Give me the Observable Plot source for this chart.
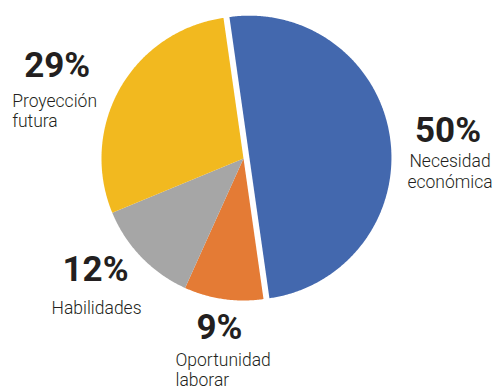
<!DOCTYPE html>
<html>
<head>
<meta charset="utf-8">
<script src="https://cdn.jsdelivr.net/npm/d3@7"></script>
<script src="https://cdn.jsdelivr.net/npm/@observablehq/plot@0.6"></script>
<style>
  html, body { margin: 0; padding: 0; background: #fff; }
</style>
</head>
<body>
<div id="chart"></div>
<script>
// ---- data ----
const names = ["Necesidad económica", "Oportunidad laborar", "Habilidades", "Proyección futura"];
const labelLines = ["Necesidad\neconómica", "Oportunidad\nlaborar", "Habilidades", "Proyección\nfutura"];
const values = [50, 9, 12, 29];
const pctLabels = ["50%", "9%", "12%", "29%"];
const colors = ["#4368ae", "#e47b35", "#a6a6a6", "#f2b91f"];

// ---- layout ----
const W = 497, H = 389;
const cx = 243, cy = 158, R = 142;
const startDeg = -8.1;
const explode = [6, 0, 0, 0];

const arcs = d3.pie().sort(null).value(d => d.value)
  .startAngle(startDeg * Math.PI / 180)
  .endAngle(startDeg * Math.PI / 180 + 2 * Math.PI)(
    names.map((name, i) => ({name, value: values[i], i}))
  );

const pts = [];
arcs.forEach(a => {
  const mid = (a.startAngle + a.endAngle) / 2;
  const ox = cx + explode[a.data.i] * Math.sin(mid);
  const oy = cy - explode[a.data.i] * Math.cos(mid);
  a.ox = ox; a.oy = oy; a.mid = mid;
  pts.push({name: a.data.name, x: ox, y: oy});
  const n = Math.max(8, Math.ceil((a.endAngle - a.startAngle) * 180 / Math.PI * 2));
  for (let k = 0; k <= n; k++) {
    const t = a.startAngle + (a.endAngle - a.startAngle) * k / n;
    pts.push({name: a.data.name, x: ox + R * Math.sin(t), y: oy - R * Math.cos(t)});
  }
});

// label anchors on the outer arc at mid-angle
const anchors = arcs.map(a => ({
  i: a.data.i,
  x: a.ox + R * Math.sin(a.mid),
  y: a.oy - R * Math.cos(a.mid)
}));

// per-slice label offsets (layout only)
const labelOffsets = [
  {pct: {dx: 58, dy: 4, anchor: "middle"}, name: {dx: 60, dy: 15, anchor: "middle"}},
  {pct: {dx: -4, dy: 40, anchor: "middle"}, name: {dx: -48, dy: 52, anchor: "start"}},
  {pct: {dx: -46, dy: 24, anchor: "middle"}, name: {dx: -45, dy: 42, anchor: "middle"}},
  {pct: {dx: -63, dy: -11, anchor: "middle"}, name: {dx: -108, dy: 4, anchor: "start"}}
];

const textColor = "#231f20";
const textMarks = [];
anchors.forEach(an => {
  const o = labelOffsets[an.i];
  textMarks.push(Plot.text([an], {
    x: "x", y: "y", text: () => pctLabels[an.i],
    dx: o.pct.dx, dy: o.pct.dy, textAnchor: o.pct.anchor, lineAnchor: "bottom",
    fontFamily: "Roboto, 'Liberation Sans', sans-serif", fontWeight: 700, fontSize: 35,
    fill: textColor
  }));
  textMarks.push(Plot.text([an], {
    x: "x", y: "y", text: () => labelLines[an.i],
    dx: o.name.dx, dy: o.name.dy, textAnchor: o.name.anchor, lineAnchor: "top",
    lineHeight: 1.17,
    fontFamily: "Roboto, 'Liberation Sans', sans-serif", fontWeight: 300, fontSize: 17.5,
    fill: textColor
  }));
});

const chart = Plot.plot({
  width: W,
  height: H,
  margin: 0,
  x: {domain: [0, W], range: [0, W], axis: null},
  y: {domain: [0, H], range: [0, H], axis: null},
  color: {domain: names, range: colors},
  style: {background: "#fff"},
  marks: [
    Plot.line(pts, {x: "x", y: "y", z: "name", fill: "name", stroke: "none", curve: "linear-closed"}),
    ...textMarks
  ]
});
document.getElementById("chart").appendChild(chart);
</script>
</body>
</html>
